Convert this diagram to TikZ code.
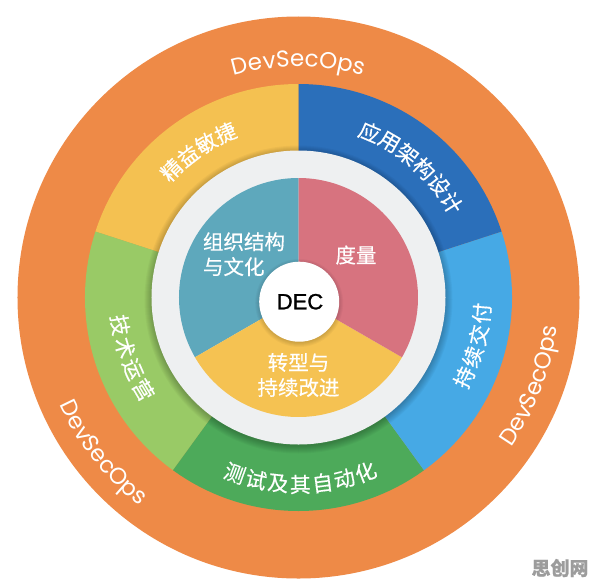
\documentclass[tikz,border=0pt]{standalone}
\usepackage{fontspec}
\setmainfont{Poppins}
\newfontfamily\cjk[FakeBold=0.4]{Noto Sans CJK SC}
\newfontfamily\decfont[FakeBold=1.2]{Liberation Sans}
\usetikzlibrary{decorations.text}

\definecolor{devorange}{HTML}{EE8A47}
\definecolor{segyellow}{HTML}{F4C151}
\definecolor{segblue}{HTML}{2B6FBA}
\definecolor{seglight}{HTML}{46A9E5}
\definecolor{seggreen}{HTML}{4DAA5A}
\definecolor{seglime}{HTML}{99CA66}
\definecolor{pieteal}{HTML}{5EA8BC}
\definecolor{piepink}{HTML}{D7737F}
\definecolor{pieyellow}{HTML}{F5C252}
\definecolor{ringgrey}{HTML}{EEF0F1}
\definecolor{wmgrey}{HTML}{9C9C9C}

\tikzset{
  ringlabel/.style={text=white, inner sep=0pt, font=\cjk\fontsize{21}{21}\selectfont},
  pielabel/.style={text=white, inner sep=0pt, font=\cjk\fontsize{20.5}{25}\selectfont},
  devlabel/.style={decorate, decoration={text along path, text align=center, text color=white,
    text={|\fontsize{23}{23}\selectfont|#1}}}
}

\newcommand{\arcchars}[6]{%
  \foreach \ch [count=\k] in {#2} {
    \pgfmathsetmacro{\ang}{#3+(\k-1)*(#4)}
    \node[ringlabel, rotate=\ang+#6] (#1-\k) at (\ang:#5) {\ch};
  }}

\begin{document}
\begin{tikzpicture}[x=1pt, y=1pt]
        \useasboundingbox[fill=white] (-298.5,-289.5) rectangle (297.5,297.5);

        \fill[devorange] (0,0) circle[radius=281];

        \fill[segyellow] (0,0) -- (90:213.5) arc[start angle=90, end angle=162, radius=213.5] -- cycle;
        \fill[seglime] (0,0) -- (162:213.5) arc[start angle=162, end angle=234, radius=213.5] -- cycle;
        \fill[seggreen] (0,0) -- (234:213.5) arc[start angle=234, end angle=306, radius=213.5] -- cycle;
        \fill[seglight] (0,0) -- (306:213.5) arc[start angle=306, end angle=378, radius=213.5] -- cycle;
        \fill[segblue] (0,0) -- (18:213.5) arc[start angle=18, end angle=90, radius=213.5] -- cycle;

        \foreach \s in {0,...,7}
            \fill[black, opacity=0.03] (0,-2) circle[radius=147+\s];
        \fill[ringgrey] (0,0) circle[radius=147];

        \fill[pieteal] (0,0) -- (90:119.5) arc[start angle=90, end angle=210, radius=119.5] -- cycle;
        \fill[pieyellow] (0,0) -- (210:119.5) arc[start angle=210, end angle=330, radius=119.5] -- cycle;
        \fill[piepink] (0,0) -- (330:119.5) arc[start angle=330, end angle=450, radius=119.5] -- cycle;

        \foreach \s in {0,...,4}
            \fill[black, opacity=0.03] (0.7,-5.5) circle[radius=40+\s];
        \fill[white] (0.7,-4.2) circle[radius=40];

        \path[devlabel=DevSecOps] (150:231) arc[start angle=150, end angle=30, radius=231];
        \path[devlabel=DevSecOps] (-80.8:260) arc[start angle=-80.8, end angle=39.2, radius=260];
        \path[devlabel=DevSecOps] (158.5:262) arc[start angle=158.5, end angle=278.5, radius=262];

        \arcchars{agile}{精,益,敏,捷}{134.9}{-7}{180}{-90}
        \arcchars{arch}{应,用,架,构,设,计}{66.7}{-7}{180}{-90}
        \arcchars{deliv}{持,续,交,付}{-25.7}{6.93}{184}{90}
        \arcchars{test}{测,试,及,其,自,动,化}{250.1}{6.82}{187}{90}
        \arcchars{ops}{技,术,运,营}{188.8}{7.33}{180.6}{90}

        \node[pielabel, align=left] (org) at (-54.5,43.3) {组织结构\\与文化};
        \node[pielabel] (measure) at (57.5,42.5) {度量};
        \node[pielabel, align=center] (trans) at (0,-77.5) {转型与\\持续改进};
        \node[font=\decfont\fontsize{22}{22}\selectfont] (dec) at (1.5,-4.2) {DEC};

        \node[text=wmgrey, font=\cjk\bfseries\fontsize{19}{19}\selectfont] (wm) at (261.5,-270.5) {思创网};
\end{tikzpicture}
\end{document}
